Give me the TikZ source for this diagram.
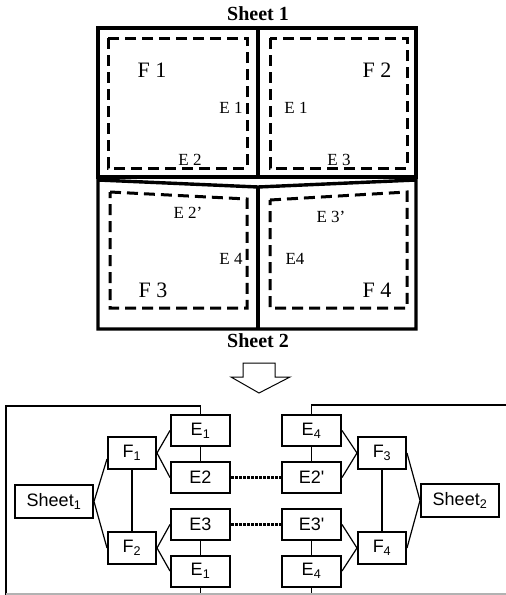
\documentclass[tikz,border=0pt]{standalone}
\usepackage{fontspec}
\setmainfont{Liberation Serif}
\newfontfamily\boxfont{Liberation Sans}
\usetikzlibrary{calc}

\tikzset{
  sheetline/.style={line width=3.4pt, line join=miter},
  faceline/.style={line width=3pt, dash pattern=on 11pt off 6pt},
  facelbl/.style={font=\fontsize{22}{22}\selectfont},
  edgelbl/.style={font=\fontsize{17}{17}\selectfont},
  titlelbl/.style={font=\bfseries\fontsize{20}{20}\selectfont},
  ebox/.style={draw, line width=2pt, inner sep=0pt, minimum width=59pt, minimum height=31pt,
    font=\boxfont\fontsize{18}{18}\selectfont},
  fbox/.style={ebox, minimum width=48pt, minimum height=32pt},
  sbox/.style={ebox, minimum width=78pt, minimum height=33pt},
  link/.style={line width=1.2pt},
  match/.style={line width=2.2pt, dash pattern=on 2.5pt off 1.5pt},
  frame/.style={line width=1.2pt}
}
\newcommand{\sm}[1]{\textsubscript{#1}}

\begin{document}
\begin{tikzpicture}[x=1pt,y=-1pt]
		\useasboundingbox (0,0) rectangle (506,595);
		% the two sheets
		\coordinate (TL) at (98,28);
		\coordinate (TR) at (416,28);
		\coordinate (TM) at (258,28);
		\coordinate (ML) at (98,177);
		\coordinate (MR) at (416,177);
		\coordinate (MM) at (258,177);
		\coordinate (SL) at (98,180);
		\coordinate (SR) at (416,180);
		\coordinate (SM) at (258,187);
		\coordinate (BL) at (98,329);
		\coordinate (BR) at (416,329);
		\coordinate (BM) at (258,329);
		\draw[sheetline] (TL) -- (TR) -- (MR) -- (ML) -- cycle;
		\draw[sheetline] (TM) -- (MM);
		\draw[sheetline] (SL) -- (SM) -- (SR) -- (BR) -- (BL) -- cycle;
		\draw[sheetline] (SM) -- (BM);
		% faces
		\draw[faceline] (108,38) rectangle (247,168);
		\draw[faceline] (270,38) rectangle (407,168);
		\draw[faceline] (110,192) -- (247,199) -- (247,308) -- (110,308) -- cycle;
		\draw[faceline] (270,200) -- (407,192) -- (407,308) -- (270,308) -- cycle;
		\node[titlelbl] (s1) at (258,14) {Sheet 1};
		\node[titlelbl] (s2) at (258,341) {Sheet 2};
		\node[facelbl] (lf1) at (152,70) {F 1};
		\node[facelbl] (lf2) at (377,70) {F 2};
		\node[facelbl] (lf3) at (153,290) {F 3};
		\node[facelbl] (lf4) at (377,290) {F 4};
		\node[edgelbl] (le1a) at (231,108) {E 1};
		\node[edgelbl] (le1b) at (296,108) {E 1};
		\node[edgelbl] (le2) at (190,160) {E 2};
		\node[edgelbl] (le3) at (339,160) {E 3};
		\node[edgelbl] (le2p) at (188,213) {E 2'};
		\node[edgelbl] (le3p) at (331,217) {E 3'};
		\node[edgelbl] (le4a) at (231,259) {E 4};
		\node[edgelbl] (le4b) at (295,259) {E4};
		% arrow
		\draw[line width=1pt] (243,363) -- (275,363) -- (275,377) -- (290,377)
			-- (259,393) -- (231,377) -- (243,377) -- cycle;
		% graph
		\node[sbox] (sheet1) at (54,501.5) {Sheet\sm{1}};
		\node[fbox] (f1) at (132,453) {F\sm{1}};
		\node[fbox] (f2) at (132,548) {F\sm{2}};
		\node[ebox] (e1a) at (200.5,430.5) {E\sm{1}};
		\node[ebox] (e2) at (200.5,477.5) {E2};
		\node[ebox] (e3) at (200.5,524.5) {E3};
		\node[ebox] (e1b) at (200.5,571) {E\sm{1}};
		\node[sbox] (sheet2) at (460,500.5) {Sheet\sm{2}};
		\node[fbox] (f3) at (382,453) {F\sm{3}};
		\node[fbox] (f4) at (382,548) {F\sm{4}};
		\node[ebox] (e4a) at (311.5,430.5) {E\sm{4}};
		\node[ebox] (e2p) at (311.5,477.5) {E2'};
		\node[ebox] (e3p) at (311.5,524.5) {E3'};
		\node[ebox] (e4b) at (311.5,571) {E\sm{4}};
		\draw[link] (sheet1.east) -- ([yshift=-6pt]f1.west);
		\draw[link] (sheet1.east) -- (f2.west);
		\draw[link] (f1.east) -- (e1a.west);
		\draw[link] (f1.east) -- (e2.west);
		\draw[link] (f2.east) -- (e3.west);
		\draw[link] (f2.east) -- (e1b.west);
		\draw[link] (f1) -- (f2);
		\draw[link] (e1a) -- (e2);
		\draw[link] (e3) -- (e1b);
		\draw[link] (sheet2.west) -- (f3.east);
		\draw[link] (sheet2.west) -- (f4.east);
		\draw[link] (f3.west) -- (e4a.east);
		\draw[link] (f3.west) -- (e2p.east);
		\draw[link] (f4.west) -- (e3p.east);
		\draw[link] (f4.west) -- (e4b.east);
		\draw[link] (f3) -- (f4);
		\draw[link] (e4a) -- (e2p);
		\draw[link] (e3p) -- (e4b);
		\draw[match] (e2) -- (e2p);
		\draw[match] (e3) -- (e3p);
		% frames
		\coordinate (LT) at (6,406);
		\coordinate (LB) at (6,595);
		\coordinate (RT) at (506,405);
		\draw[frame] (e1a.north) |- (LT) -- (LB);
		\draw[frame] (e4a.north) |- (RT);
		\draw[frame] (e1b.south) -- (e1b.south |- LB);
		\draw[frame] (e4b.south) -- (e4b.south |- LB);
		\draw[frame, gray!60] (6,594) -- (506,594);
	\end{tikzpicture}
\end{document}
